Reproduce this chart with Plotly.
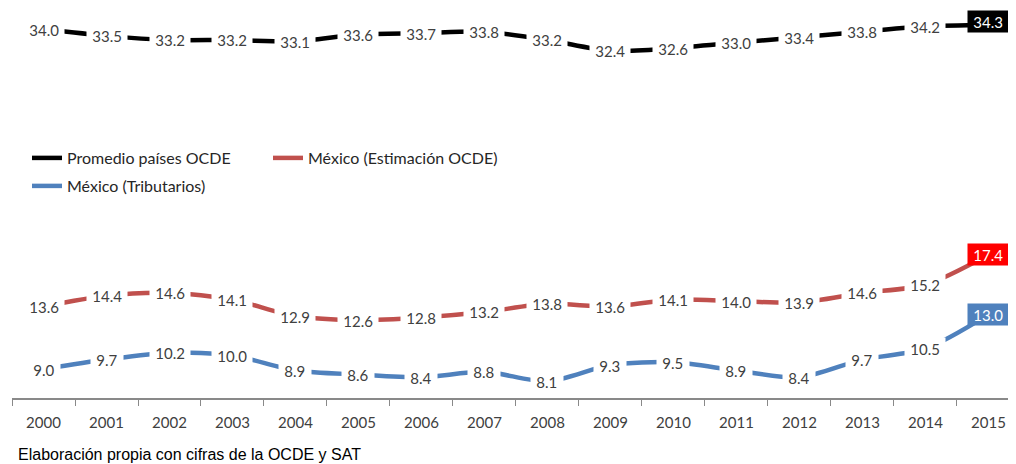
import plotly.graph_objects as go

years = [str(y) for y in range(2000, 2016)]
ocde_prom = [34.0, 33.5, 33.2, 33.2, 33.1, 33.6, 33.7, 33.8, 33.2, 32.4, 32.6, 33.0, 33.4, 33.8, 34.2, 34.3]
mex_est = [13.6, 14.4, 14.6, 14.1, 12.9, 12.6, 12.8, 13.2, 13.8, 13.6, 14.1, 14.0, 13.9, 14.6, 15.2, 17.4]
mex_trib = [9.0, 9.7, 10.2, 10.0, 8.9, 8.6, 8.4, 8.8, 8.1, 9.3, 9.5, 8.9, 8.4, 9.7, 10.5, 13.0]

names = ["Promedio países OCDE", "México (Estimación OCDE)", "México (Tributarios)"]
colors = ["#000000", "#C0504D", "#4F81BD"]
last_box = ["#000000", "#FF0000", "#4F81BD"]
series = [ocde_prom, mex_est, mex_trib]
legends = ["legend", "legend", "legend2"]

# page body has an 8px default margin; figure is sized to fit the window
W, H = 1008, 456
L, B = 4, 66
PW, PH = W - L, H - B

fig = go.Figure()
for s, n, c, lg in zip(series, names, colors, legends):
    fig.add_trace(go.Scatter(
        x=years, y=s, name=n, mode="lines",
        line=dict(color=c, width=4.5, shape="spline", smoothing=0.8),
        legend=lg, hoverinfo="skip",
    ))

annotations = []
for s, c, bc in zip(series, colors, last_box):
    for i, v in enumerate(s):
        last = i == len(s) - 1
        annotations.append(dict(
            x=i, y=v, xref="x", yref="y", text=f"&nbsp;{v:.1f}&nbsp;", showarrow=False,
            font=dict(family="Lato", size=15, color="#FFFFFF" if last else "#404040"),
            bgcolor=bc if last else "#FFFFFF",
            borderpad=1.5,
            yshift=4 if (last and c == "#000000") else 0,
        ))

annotations.append(dict(
    x=(8 - L) / PW, y=(PH - 447) / PH, xref="paper", yref="paper",
    text="Elaboración propia con cifras de la OCDE y SAT",
    showarrow=False, xanchor="left", yanchor="middle",
    font=dict(family="Liberation Sans", size=16, color="#000000"),
))

fig.update_layout(
    width=W, height=H,
    margin=dict(l=L, r=0, t=0, b=B),
    paper_bgcolor="#FFFFFF", plot_bgcolor="#FFFFFF",
    showlegend=True,
    legend=dict(
        orientation="h", x=15 / PW, y=(PH - 150) / PH, xanchor="left", yanchor="middle",
        font=dict(family="Lato", size=16, color="#262626"),
        entrywidth=196, entrywidthmode="pixels", bgcolor="rgba(0,0,0,0)",
        itemwidth=30, tracegroupgap=0,
    ),
    legend2=dict(
        orientation="h", x=15 / PW, y=(PH - 178) / PH, xanchor="left", yanchor="middle",
        font=dict(family="Lato", size=16, color="#262626"),
        bgcolor="rgba(0,0,0,0)", itemwidth=30,
    ),
    xaxis=dict(
        type="category", range=[-0.5, 15.437], tickson="boundaries",
        ticks="outside", ticklen=6, tickwidth=1, tickcolor="#898989",
        showline=True, linecolor="#898989", linewidth=2,
        showgrid=False, zeroline=False, ticklabelstandoff=10,
        tickfont=dict(family="Lato", size=15, color="#404040"),
    ),
    yaxis=dict(range=[6.875, 35.55], visible=False, showgrid=False, zeroline=False),
    annotations=annotations,
)

fig.write_html("out.html")
